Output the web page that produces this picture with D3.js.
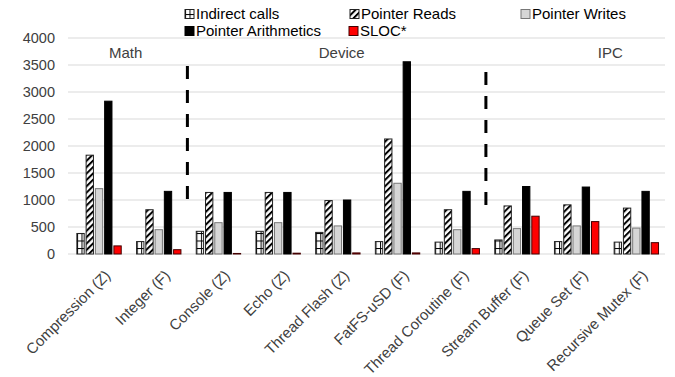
<!DOCTYPE html>
<html>
<head>
<meta charset="utf-8">
<script src="https://cdn.jsdelivr.net/npm/d3@7"></script>
<style>
  body { margin: 0; background: #fff; }
  text { font-family: "Liberation Sans", Arial, sans-serif; }
</style>
</head>
<body>
<div id="chart"></div>
<script>
var svgWidth = 675;
var svgHeight = 377;

var margin = { top: 38, right: 10, bottom: 123, left: 68 };
var width = svgWidth - margin.left - margin.right;
var height = svgHeight - margin.top - margin.bottom;

// ---- data ----
var categories = ["Compression (Z)", "Integer (F)", "Console (Z)", "Echo (Z)", "Thread Flash (Z)",
  "FatFS-uSD (F)", "Thread Coroutine (F)", "Stream Buffer (F)", "Queue Set (F)", "Recursive Mutex (F)"];
var seriesNames = ["Indirect calls", "Pointer Reads", "Pointer Writes", "Pointer Arithmetics", "SLOC*"];
var indirectCalls = [380, 230, 420, 420, 400, 230, 220, 260, 230, 220];
var pointerReads = [1830, 820, 1140, 1140, 990, 2130, 820, 890, 910, 850];
var pointerWrites = [1210, 450, 580, 580, 520, 1310, 450, 470, 520, 480];
var pointerArith = [2830, 1160, 1140, 1140, 1000, 3560, 1160, 1250, 1240, 1160];
var sloc = [150, 80, 10, 15, 20, 20, 100, 700, 600, 210];
var yTicks = [0, 500, 1000, 1500, 2000, 2500, 3000, 3500, 4000];
var groupNames = ["Math", "Device", "IPC"];
// dashed separators: category they sit in front of, top and bottom values
var sepBefore = ["Console (Z)", "Stream Buffer (F)"];
var sepTop = [3480, 3370];
var sepBottom = [1000, 830];

var allSeries = [indirectCalls, pointerReads, pointerWrites, pointerArith, sloc];

var svg = d3.select("#chart")
  .append("svg")
  .attr("width", svgWidth)
  .attr("height", svgHeight);

// patterns
var defs = svg.append("defs");
var grid = defs.append("pattern")
  .attr("id", "gridPat")
  .attr("patternUnits", "userSpaceOnUse")
  .attr("width", 4.5).attr("height", 7.5);
grid.append("rect").attr("width", 4.5).attr("height", 7.5).attr("fill", "#fff");
grid.append("line").attr("x1", 0).attr("x2", 4.5).attr("y1", 0.5).attr("y2", 0.5)
  .attr("stroke", "#000").attr("stroke-width", 1);
grid.append("line").attr("x1", 0.5).attr("x2", 0.5).attr("y1", 0).attr("y2", 7.5)
  .attr("stroke", "#000").attr("stroke-width", 1);

var hatch = defs.append("pattern")
  .attr("id", "hatchPat")
  .attr("patternUnits", "userSpaceOnUse")
  .attr("width", 4.5).attr("height", 4.5)
  .attr("patternTransform", "rotate(45)");
hatch.append("rect").attr("width", 4.5).attr("height", 4.5).attr("fill", "#fff");
hatch.append("line").attr("x1", 1).attr("x2", 1).attr("y1", 0).attr("y2", 4.5)
  .attr("stroke", "#000").attr("stroke-width", 2);

var fills = ["url(#gridPat)", "url(#hatchPat)", "#d6d6d6", "#000", "#ff0000"];
var strokes = ["#222", "#222", "#777", "#000", "#400"];

var chartGroup = svg.append("g")
  .attr("transform", `translate(${margin.left}, ${margin.top})`);

// scales
var xScale = d3.scaleBand().domain(categories).range([0, width]).padding(0);
var xInner = d3.scaleBand().domain(d3.range(seriesNames.length))
  .range([xScale.bandwidth() * 0.14, xScale.bandwidth() * 0.9]).paddingInner(0.1);
var yScale = d3.scaleLinear().domain([0, 4000]).range([height, 0]);

// gridlines
chartGroup.append("g")
  .selectAll("line")
  .data(yTicks)
  .enter()
  .append("line")
  .attr("x1", 0).attr("x2", width)
  .attr("y1", d => yScale(d)).attr("y2", d => yScale(d))
  .attr("stroke", "#d9d9d9").attr("stroke-width", 1);

// y axis
var leftAxis = d3.axisLeft(yScale).tickValues(yTicks).tickFormat(d3.format("d"))
  .tickSize(0).tickPadding(13);
var yAxis = chartGroup.append("g").call(leftAxis);
yAxis.select(".domain").remove();
yAxis.selectAll("text")
  .attr("font-size", "14.5px")
  .attr("fill", "#404040")
  .style("font-family", "Liberation Sans, Arial, sans-serif");

// bars
var groups = chartGroup.selectAll(".cat")
  .data(categories)
  .enter()
  .append("g")
  .attr("class", "cat")
  .attr("transform", d => `translate(${xScale(d)}, 0)`);

groups.each(function(cat, ci) {
  var g = d3.select(this);
  allSeries.forEach(function(vals, si) {
    g.append("rect")
      .attr("x", xInner(si) + 0.5)
      .attr("y", yScale(vals[ci]))
      .attr("width", xInner.bandwidth() - 1)
      .attr("height", height - yScale(vals[ci]))
      .attr("fill", fills[si])
      .attr("stroke", strokes[si])
      .attr("stroke-width", 1);
  });
});

// x labels
chartGroup.append("g")
  .selectAll("text")
  .data(categories)
  .enter()
  .append("text")
  .attr("transform", d => `translate(${xScale(d) + xScale.bandwidth() / 2 + 6}, ${height + 15}) rotate(-45)`)
  .attr("text-anchor", "end")
  .attr("dy", "0.7em")
  .attr("font-size", "15px")
  .attr("fill", "#404040")
  .text(d => d);

// dashed separators
chartGroup.append("g")
  .selectAll("line")
  .data(sepBefore)
  .enter()
  .append("line")
  .attr("x1", d => xScale(d)).attr("x2", d => xScale(d))
  .attr("y1", (d, i) => yScale(sepTop[i]))
  .attr("y2", (d, i) => yScale(sepBottom[i]))
  .attr("stroke", "#000")
  .attr("stroke-width", 3)
  .attr("stroke-dasharray", "13,11");

// group labels
var bw = xScale.bandwidth();
var groupX = [xScale(categories[1]) - 2, xScale(categories[4]) + bw / 2 + 5, xScale(categories[9]) + 5];
chartGroup.append("g")
  .selectAll("text")
  .data(groupNames)
  .enter()
  .append("text")
  .attr("x", (d, i) => groupX[i])
  .attr("y", 20)
  .attr("text-anchor", "middle")
  .attr("font-size", "15px")
  .attr("fill", "#404040")
  .text(d => d);

// legend
var legendX = [185, 350, 521, 185, 349];
var legendY = [14, 14, 14, 31, 31];
var legend = svg.append("g");
seriesNames.forEach(function(name, i) {
  var lg = legend.append("g")
    .attr("transform", `translate(${legendX[i]}, ${legendY[i]})`);
  lg.append("rect")
    .attr("x", 0).attr("y", -4.5)
    .attr("width", 9).attr("height", 9)
    .attr("fill", fills[i])
    .attr("stroke", strokes[i]);
  lg.append("text")
    .attr("x", 11)
    .attr("y", 0)
    .attr("dy", "0.35em")
    .attr("font-size", "15px")
    .attr("fill", "#000")
    .text(name);
});
</script>
</body>
</html>
